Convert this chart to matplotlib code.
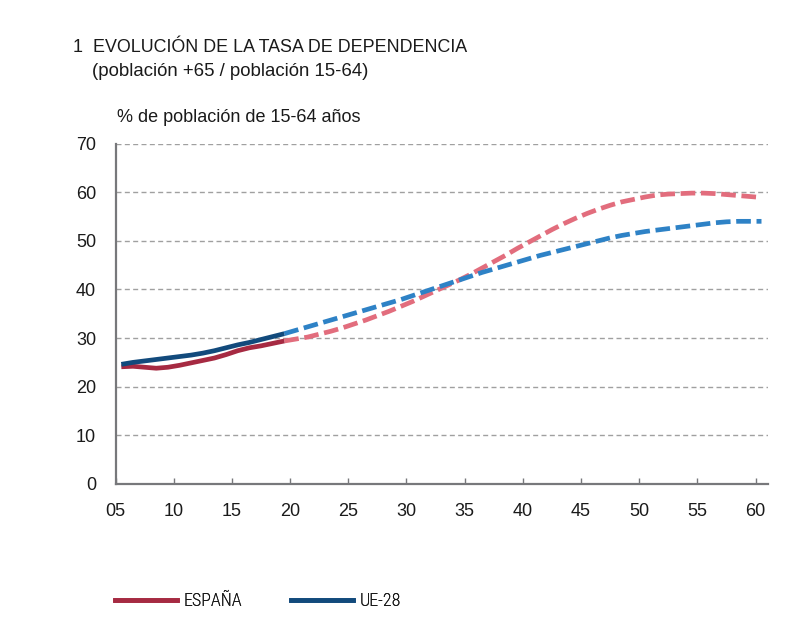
import matplotlib
matplotlib.use("Agg")
import matplotlib.pyplot as plt
from matplotlib.lines import Line2D

years_hist = list(range(2005, 2020))
spain_hist = [24.1, 24.2, 24.0, 23.8, 24.0, 24.4, 24.9, 25.4, 25.9, 26.6, 27.4, 28.0, 28.4, 28.9, 29.4]
eu_hist = [24.6, 25.0, 25.3, 25.6, 25.9, 26.2, 26.5, 26.9, 27.4, 28.0, 28.6, 29.1, 29.7, 30.3, 30.9]

years_proj = list(range(2019, 2061))
spain_proj = [29.4, 29.8, 30.2, 30.8, 31.4, 32.1, 32.9, 33.7, 34.6, 35.5,
              36.5, 37.5, 38.6, 39.7, 40.8, 41.9, 43.1, 44.4, 45.7, 47.0,
              48.4, 49.7, 51.0, 52.3, 53.5, 54.6, 55.6, 56.5, 57.3, 58.0,
              58.5, 59.0, 59.4, 59.6, 59.7, 59.8, 59.8, 59.7, 59.5, 59.3,
              59.1, 58.9]
eu_proj = [30.9, 31.6, 32.3, 33.0, 33.7, 34.4, 35.1, 35.8, 36.5, 37.2,
           37.9, 38.7, 39.5, 40.3, 41.1, 41.9, 42.7, 43.5, 44.2, 44.9,
           45.6, 46.3, 47.0, 47.6, 48.2, 48.8, 49.4, 50.0, 50.6, 51.1,
           51.5, 51.9, 52.2, 52.5, 52.8, 53.1, 53.4, 53.7, 53.9, 54.0,
           54.0, 54.0]

x_ticks = [5, 10, 15, 20, 25, 30, 35, 40, 45, 50, 55, 60]
x_ticklabels = ["05", "10", "15", "20", "25", "30", "35", "40", "45", "50", "55", "60"]
y_ticks = [0, 10, 20, 30, 40, 50, 60, 70]

title1 = "1  EVOLUCIÓN DE LA TASA DE DEPENDENCIA"
title2 = "(población +65 / población 15-64)"
unit_label = "% de población de 15-64 años"
legend_labels = ["ESPAÑA", "UE-28"]

c_es = "#a62a42"
c_es_proj = "#e26d7d"
c_eu = "#124a7c"
c_eu_proj = "#2e82c6"
txt = "#1a1a1a"

plt.rcParams['font.family'] = ['Liberation Sans', 'DejaVu Sans']
legend_family = ['Roboto Condensed', 'Open Sans Condensed', 'Liberation Sans']

fig = plt.figure(figsize=(8.01, 6.38), dpi=100)
ax = fig.add_axes([115.5 / 801, (638 - 484) / 638, (768 - 115.5) / 801, (484 - 143.5) / 638])

def pos(ys):
    return [y - 2000 + 0.5 for y in ys]

lw = 3.4
dash = (3.1, 1.2)
ax.plot(pos(years_proj), spain_proj, color=c_es_proj, lw=lw, dashes=dash, dash_capstyle='butt', zorder=3)
ax.plot(pos(years_proj), eu_proj, color=c_eu_proj, lw=lw, dashes=dash, dash_capstyle='butt', zorder=3)
ax.plot(pos(years_hist), spain_hist, color=c_es, lw=lw, solid_capstyle='butt', zorder=4)
ax.plot(pos(years_hist), eu_hist, color=c_eu, lw=lw, solid_capstyle='butt', zorder=4)

ax.set_xlim(5, 61.06)
ax.set_ylim(0, 70)
ax.set_xticks(x_ticks)
ax.set_xticklabels(x_ticklabels)
ax.set_yticks(y_ticks)

for s in ['top', 'right']:
    ax.spines[s].set_visible(False)
for s in ['left', 'bottom']:
    ax.spines[s].set_color('#77787b')
    ax.spines[s].set_linewidth(1.6)

ax.yaxis.grid(True, color='#a0a0a0', lw=1.0, linestyle=(0, (3.6, 2.4)))
ax.set_axisbelow(True)
ax.tick_params(axis='x', direction='in', length=4, width=1, color='#77787b',
               labelsize=13, pad=13.5, labelcolor=txt)
ax.tick_params(axis='y', length=0, labelsize=13, pad=14, labelcolor=txt)

fig.text(73 / 801, 1 - 47 / 638, title1, fontsize=12.9, va='center', ha='left', color=txt)
fig.text(92 / 801, 1 - 72 / 638, title2, fontsize=13.4, va='center', ha='left', color=txt)
fig.text(117 / 801, 1 - 118 / 638, unit_label, fontsize=13, va='center', ha='left', color=txt)

for i, (lab, col, x0) in enumerate(zip(legend_labels, [c_es, c_eu], [115, 291])):
    leg = fig.legend([Line2D([0], [0], color=col, lw=lw)], [lab], loc='center left',
                     bbox_to_anchor=(x0 / 801, 1 - 601 / 638), frameon=False,
                     borderpad=0, borderaxespad=0, handlelength=3.45, handletextpad=0.35,
                     prop={'family': legend_family, 'size': 13, 'weight': 300})
    for t in leg.get_texts():
        t.set_color(txt)
    fig.add_artist(leg)

fig.savefig("out.png", dpi=100)
